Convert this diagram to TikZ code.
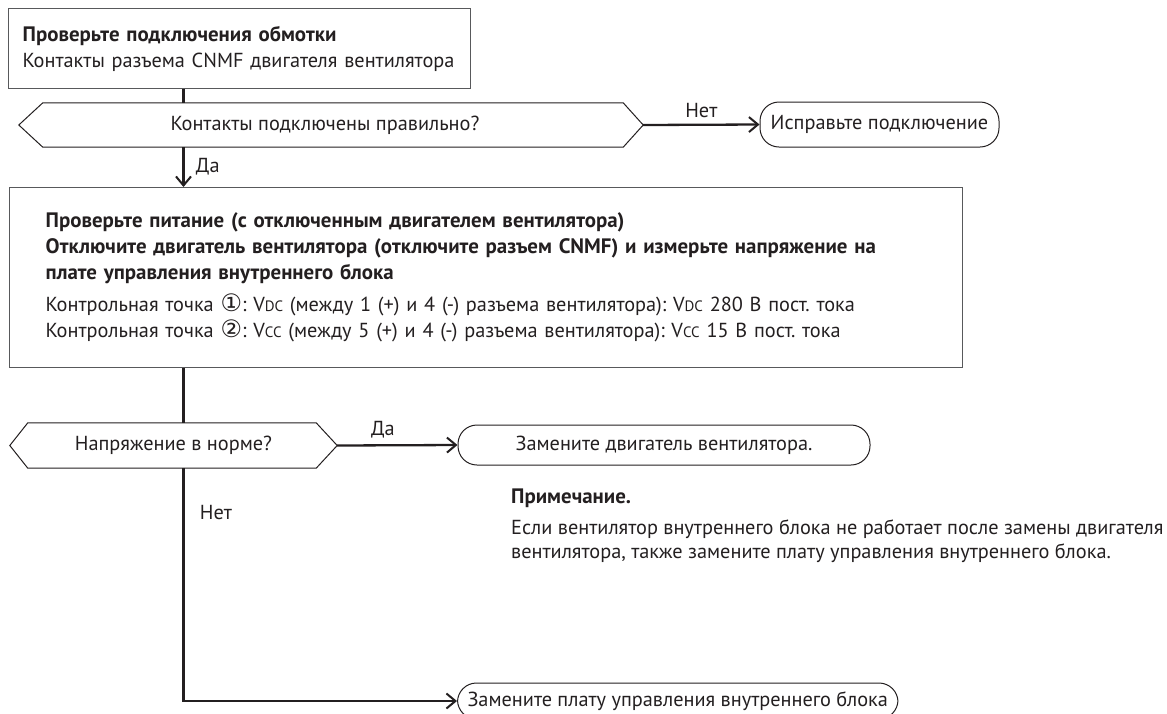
\documentclass[tikz,border=0pt]{standalone}
\usepackage{fontspec}
\setmainfont{PT Sans}
\newfontfamily\circfont{DejaVu Sans}
\usetikzlibrary{arrows.meta, positioning}
\frenchspacing

\definecolor{inkcol}{HTML}{231F20}
\definecolor{edgecol}{HTML}{58595B}

% circled digits, small-cap subscripts, bold headings
\newcommand{\cnum}[1]{{\circfont\fontsize{24}{24}\selectfont #1}}
\newcommand{\vlow}[1]{V{\fontsize{15}{15}\selectfont #1}}
\newcommand{\headtxt}[1]{{\fontsize{20.9}{26}\selectfont\bfseries #1}}

\begin{document}
\begin{tikzpicture}[
        x=1pt, y=-1pt,
        font=\fontsize{20.3}{26}\selectfont, text=inkcol,
        stepbox/.style={rectangle, draw=edgecol, line width=1.3pt, inner ysep=0pt, align=left, anchor=north west},
        choice/.style={rectangle, draw=none, inner sep=0pt},
        outline/.style={draw=inkcol, line width=1pt},
        finish/.style={rectangle, draw=inkcol, line width=1pt, rounded corners=19pt, inner ysep=0pt},
        link/.style={draw=inkcol, line width=2.3pt},
        arrow/.style={-{Straight Barb[length=9pt, width=15pt, line width=2pt]}, draw=inkcol, line width=2.3pt}
    ]
    \useasboundingbox (0,0) rectangle (1167,713);
    \coordinate (spine) at (183.5,0);

    \node (winding_node) [stepbox, minimum width=462pt, minimum height=80pt, text width=434pt, inner xsep=14pt] at (8,8)
        {\fontsize{20.3}{21}\selectfont\headtxt{Проверьте подключения обмотки}\\ Контакты разъема CNMF двигателя вентилятора};

    \node (contacts_node) [choice, minimum width=624pt, minimum height=44pt] at (325,125) {Контакты подключены правильно?};
    \draw [outline] ([xshift=6pt]contacts_node.west) -- ([xshift=30pt]contacts_node.north west) -- ([xshift=-14pt]contacts_node.north east)
        -- ([xshift=6pt]contacts_node.east) -- ([xshift=-14pt]contacts_node.south east) -- ([xshift=30pt]contacts_node.south west) -- cycle;

    \node (fix_node) [finish, minimum width=239pt, minimum height=45pt, inner xsep=4pt] at (879.5,124.5) {Исправьте подключение};

    \node (power_node) [stepbox, minimum width=953pt, minimum height=180pt, text width=881pt, inner xsep=36pt] at (9,187)
        {\headtxt{Проверьте питание (с отключенным двигателем вентилятора)}\\
         \headtxt{Отключите двигатель вентилятора (отключите разъем CNMF) и измерьте напряжение на}\\
         \headtxt{плате управления внутреннего блока}\\[6pt]
         Контрольная точка \cnum{①}: \vlow{DC} (между 1 (+) и 4 (-) разъема вентилятора): \vlow{DC} 280 В пост. тока\\
         Контрольная точка \cnum{②}: \vlow{CC} (между 5 (+) и 4 (-) разъема вентилятора): \vlow{CC} 15 В пост. тока};

    \node (voltage_node) [choice, minimum width=327pt, minimum height=45pt] at (173.5,445.5) {Напряжение в норме?};
    \draw [outline] (voltage_node.west) -- ([xshift=18pt]voltage_node.north west) -- ([xshift=-21pt]voltage_node.north east)
        -- (voltage_node.east) -- ([xshift=-21pt]voltage_node.south east) -- ([xshift=18pt]voltage_node.south west) -- cycle;

    \node (motor_node) [finish, minimum width=412pt, minimum height=40pt] at (664,445) {Замените двигатель вентилятора.};

    \node (note_node) [anchor=north west, inner sep=0pt, align=left, font=\fontsize{20.3}{24}\selectfont] at (511,489)
        {\headtxt{Примечание.}\\[7pt]
         Если вентилятор внутреннего блока не работает после замены двигателя\\
         вентилятора, также замените плату управления внутреннего блока.};

    \node (board_node) [finish, minimum height=36pt, inner xsep=10pt, anchor=west] at (457,701) {Замените плату управления внутреннего блока};

    % connectors
    \draw [link] (winding_node.south -| spine) -- (contacts_node.north -| spine);
    \draw [arrow] ([xshift=6pt]contacts_node.east) -- node[above=3pt] {Нет} (fix_node.west);
    \draw [arrow] (contacts_node.south -| spine) -- node[right=8pt] {Да} (power_node.north -| spine);
    \draw [link] (power_node.south -| spine) -- (voltage_node.north -| spine);
    \draw [arrow] (voltage_node.east) -- node[above=3pt, pos=0.38] {Да} (motor_node.west);
    \draw [arrow] (voltage_node.south -| spine) |- node[right=12pt, pos=0.095] {Нет} (board_node.west);

\end{tikzpicture}
\end{document}
